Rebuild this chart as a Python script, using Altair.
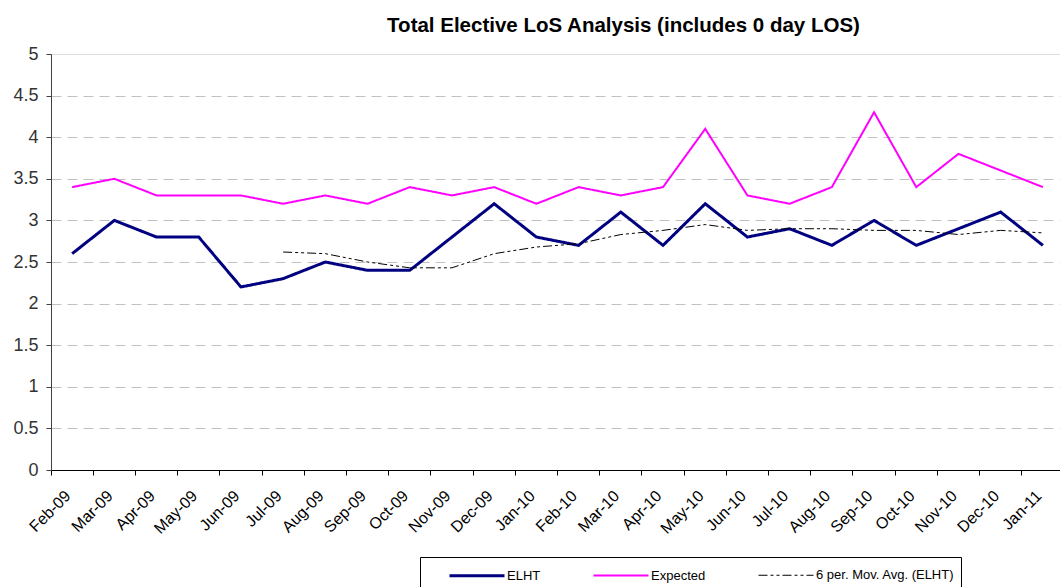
import altair as alt
import pandas as pd

# Monthly categories
months = [
    "Feb-09", "Mar-09", "Apr-09", "May-09", "Jun-09", "Jul-09", "Aug-09", "Sep-09",
    "Oct-09", "Nov-09", "Dec-09", "Jan-10", "Feb-10", "Mar-10", "Apr-10", "May-10",
    "Jun-10", "Jul-10", "Aug-10", "Sep-10", "Oct-10", "Nov-10", "Dec-10", "Jan-11",
]

# Series values (length of stay, days)
elht = [2.6, 3.0, 2.8, 2.8, 2.2, 2.3, 2.5, 2.4, 2.4, 2.8, 3.2, 2.8,
        2.7, 3.1, 2.7, 3.2, 2.8, 2.9, 2.7, 3.0, 2.7, 2.9, 3.1, 2.7]
expected = [3.4, 3.5, 3.3, 3.3, 3.3, 3.2, 3.3, 3.2, 3.4, 3.3, 3.4, 3.2,
            3.4, 3.3, 3.4, 4.1, 3.3, 3.2, 3.4, 4.3, 3.4, 3.8, 3.6, 3.4]
mov_avg = [None, None, None, None, None, 2.62, 2.60, 2.50, 2.43, 2.43, 2.60, 2.68,
           2.72, 2.83, 2.88, 2.95, 2.88, 2.90, 2.90, 2.88, 2.88, 2.83, 2.88, 2.85]

series_names = ["ELHT", "Expected", "6 per. Mov. Avg. (ELHT)"]
series_values = [elht, expected, mov_avg]
series_colors = ["#000080", "#FF00FF", "#000000"]
series_widths = [3, 1, 1.8]
series_dashes = [[1, 0], [1, 0], [9, 3, 3, 3, 3, 3]]

y_ticks = [0, 0.5, 1, 1.5, 2, 2.5, 3, 3.5, 4, 4.5, 5]

rows = []
for name, values in zip(series_names, series_values):
    for m, v in zip(months, values):
        if v is not None:
            rows.append({"month": m, "series": name, "value": v})
df = pd.DataFrame(rows)

FONT = "Liberation Sans"

# Boxed legend along the bottom; line swatches drawn as a horizontal path
legend = alt.Legend(
    title=None,
    orient="none",
    legendX=369,
    legendY=503,
    direction="horizontal",
    columns=3,
    symbolType="M0,0H5",
    symbolSize=484,
    symbolOffset=11,
    labelOffset=45,
    columnPadding=29,
    padding=6,
    strokeColor="black",
    fillColor="white",
    labelFont=FONT,
    labelFontSize=13,
    labelColor="black",
    labelLimit=300,
)

chart = alt.Chart(df).mark_line(strokeJoin="miter").encode(
    x=alt.X(
        "month:N",
        sort=months,
        scale=alt.Scale(type="band", paddingInner=0, paddingOuter=0),
        axis=alt.Axis(
            title=None,
            bandPosition=0,
            labelOffset=-4,
            labelAngle=-45,
            labelAlign="right",
            labelBaseline="middle",
            labelPadding=18,
            labelFont=FONT,
            labelFontSize=16,
            labelColor="black",
            labelOverlap=False,
            tickSize=5,
            tickColor="black",
            domainColor="black",
            grid=False,
        ),
    ),
    y=alt.Y(
        "value:Q",
        scale=alt.Scale(domain=[0, 5], nice=False),
        axis=alt.Axis(
            title=None,
            values=y_ticks,
            format="~g",
            labelFont=FONT,
            labelFontSize=18,
            labelColor="#333333",
            labelPadding=8,
            tickSize=5,
            tickColor="#404040",
            domainColor="#404040",
            grid=True,
            gridColor="#c0c0c0",
            gridDash=[10, 6],
            gridOpacity={"condition": {"test": "datum.value == 0 || datum.value == 5", "value": 0}, "value": 1},
        ),
    ),
    color=alt.Color("series:N", sort=series_names,
                    scale=alt.Scale(domain=series_names, range=series_colors), legend=legend),
    strokeWidth=alt.StrokeWidth("series:N", sort=series_names,
                                scale=alt.Scale(domain=series_names, range=series_widths), legend=legend),
    strokeDash=alt.StrokeDash("series:N", sort=series_names,
                              scale=alt.Scale(domain=series_names, range=series_dashes), legend=legend),
).properties(
    width=1013,
    height=416,
    title=alt.TitleParams(
        "Total Elective LoS Analysis (includes 0 day LOS)",
        font=FONT,
        fontSize=20.5,
        fontWeight="bold",
        color="black",
        anchor="middle",
        dx=66,
        offset=9,
    ),
    autosize=alt.AutoSizeParams(type="none"),
    padding={"left": 51, "top": 54, "right": -4, "bottom": 117},
).configure_view(stroke=None).configure(background="white")

chart.save("out.html", embed_options={"renderer": "svg", "actions": False})
